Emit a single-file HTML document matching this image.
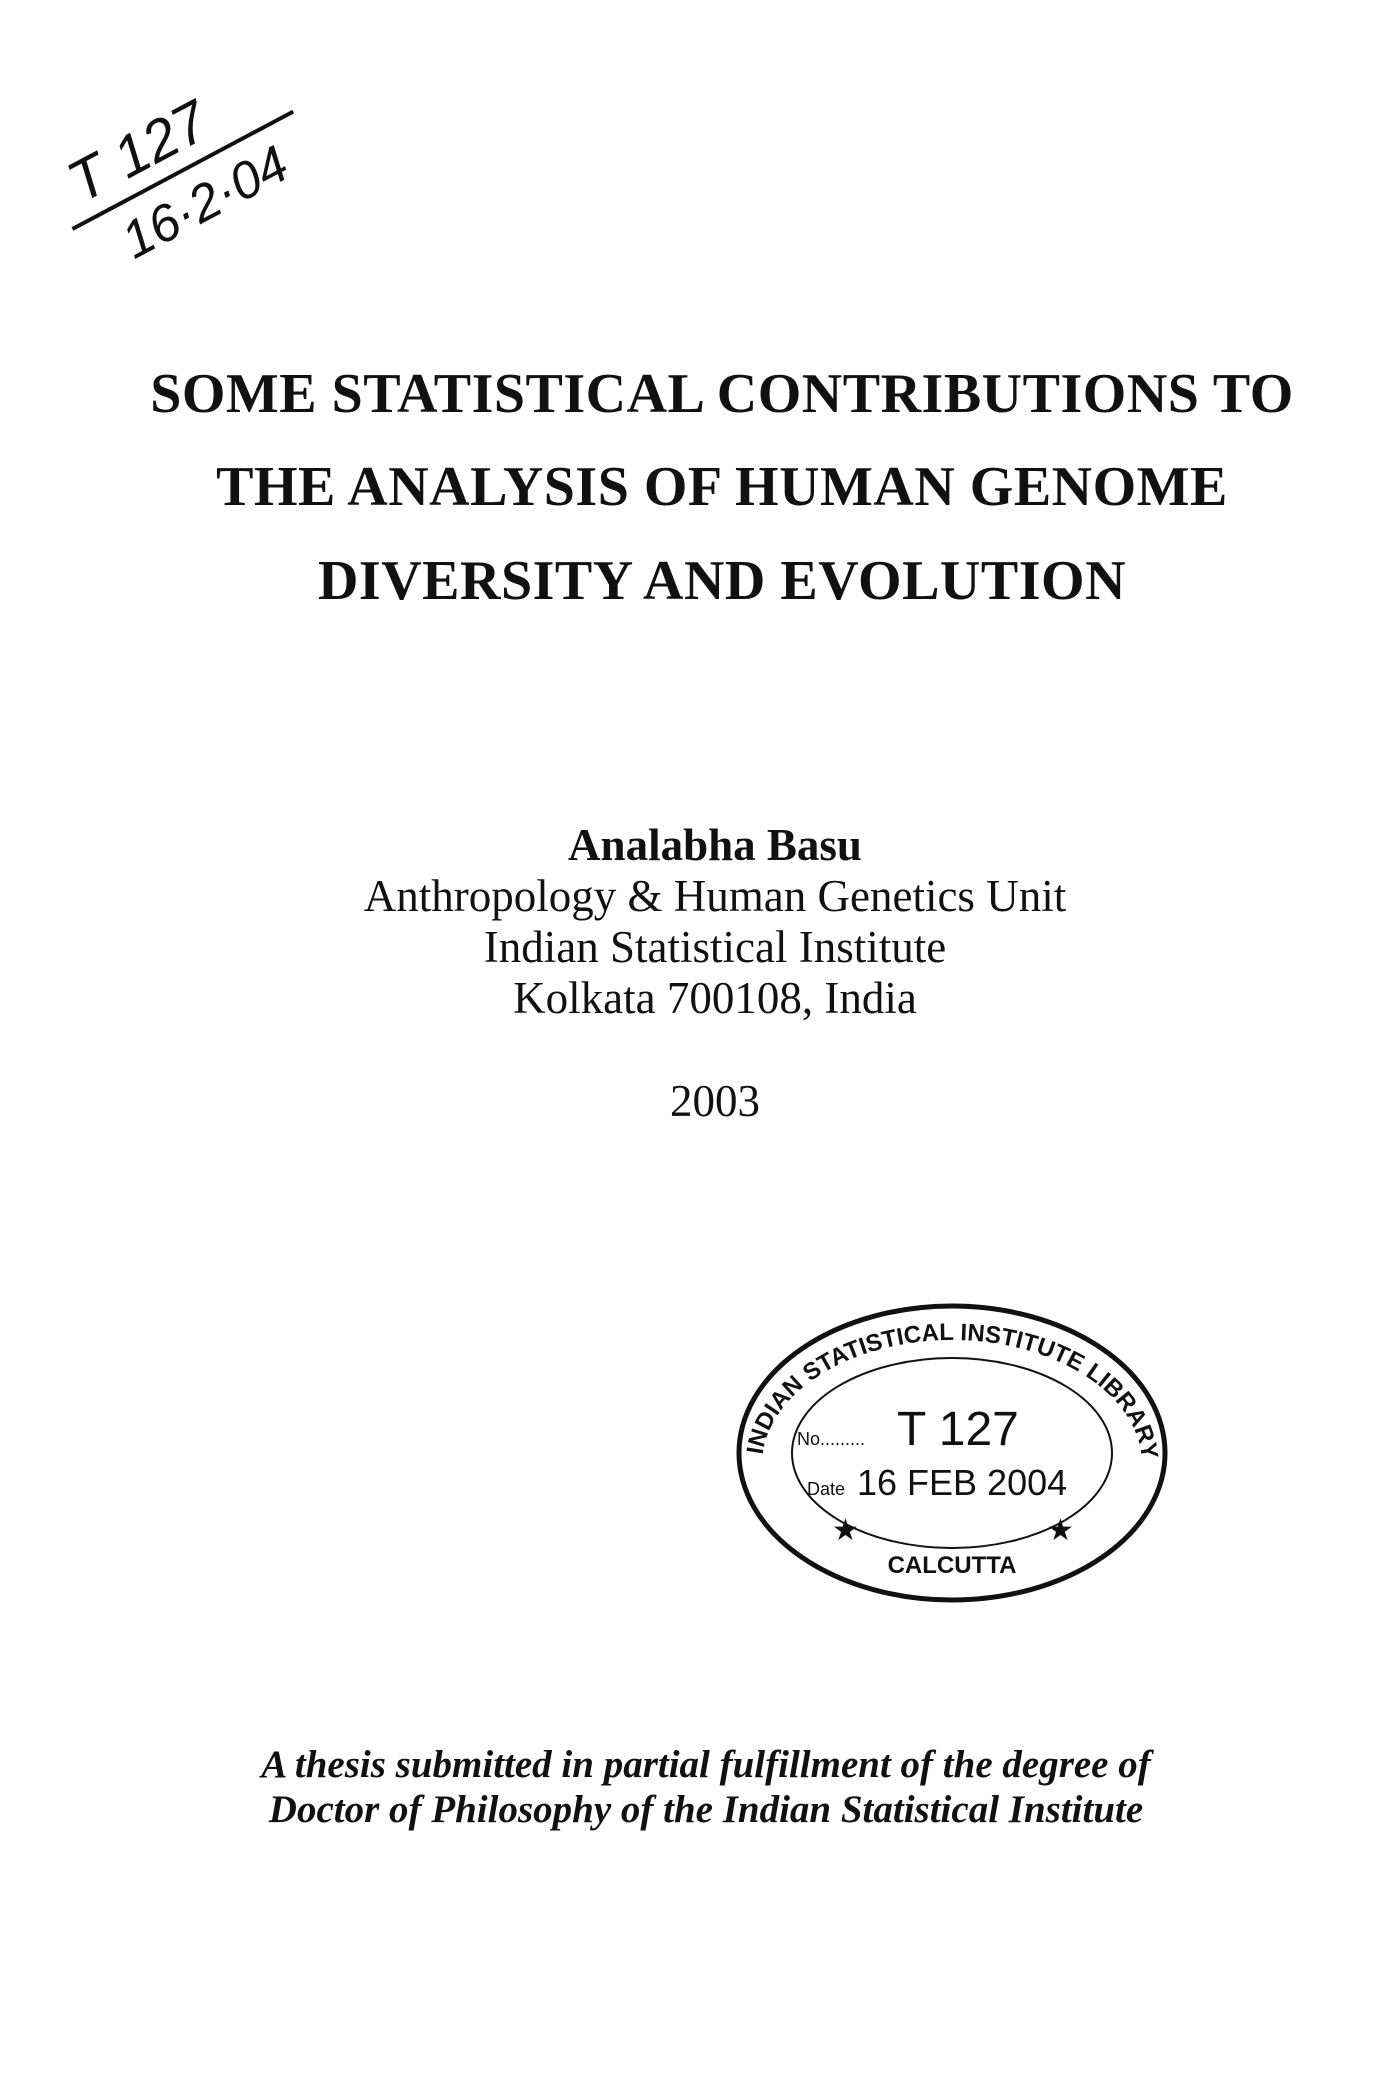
<!DOCTYPE html>
<html>
<head>
<meta charset="utf-8">
<style>
  html,body{margin:0;padding:0;}
  body{width:1400px;height:2100px;background:#fff;position:relative;overflow:hidden;font-family:"Liberation Serif",serif;color:#111;}
  .c{position:absolute;left:0;width:1400px;text-align:center;white-space:nowrap;}
  .title{font-weight:bold;font-size:56px;letter-spacing:0.5px;left:22px;}
  .auth{font-size:45px;left:15px;}
  .thesis{font-style:italic;font-weight:bold;font-size:39px;left:6px;}
</style>
</head>
<body>
<svg style="position:absolute;left:40px;top:55px" width="280" height="220" viewBox="0 0 280 220">
  <g transform="rotate(-28 140 110)" font-family="Liberation Sans, sans-serif" fill="#111" stroke="none">
    <text x="35" y="98" font-size="58" font-style="italic">T 127</text>
    <line x1="15" y1="116" x2="265" y2="116" stroke="#111" stroke-width="4"/>
    <text x="55" y="172" font-size="52" font-style="italic">16·2·04</text>
  </g>
</svg>

<div class="c title" style="top:362px">SOME STATISTICAL CONTRIBUTIONS TO</div>
<div class="c title" style="top:455px">THE ANALYSIS OF HUMAN GENOME</div>
<div class="c title" style="top:549px">DIVERSITY AND EVOLUTION</div>

<div class="c auth" style="top:819px;font-weight:bold">Analabha Basu</div>
<div class="c auth" style="top:870px">Anthropology &amp; Human Genetics Unit</div>
<div class="c auth" style="top:921px">Indian Statistical Institute</div>
<div class="c auth" style="top:972px">Kolkata 700108, India</div>
<div class="c auth" style="top:1075px">2003</div>

<svg style="position:absolute;left:722px;top:1295px" width="460" height="320" viewBox="0 0 460 320">
  <ellipse cx="230" cy="158" rx="213" ry="147" fill="none" stroke="#111" stroke-width="5"/>
  <ellipse cx="230" cy="158" rx="160" ry="95" fill="none" stroke="#111" stroke-width="2"/>
  <defs><path id="arc" d="M40 170 A190 125 0 0 1 420 170"/></defs>
  <text font-family="Liberation Sans, sans-serif" font-weight="bold" font-size="24" fill="#111"><textPath href="#arc" startOffset="2%">INDIAN STATISTICAL INSTITUTE LIBRARY</textPath></text>
  <text x="75" y="150" font-family="Liberation Sans, sans-serif" font-size="18" fill="#111">No.........</text>
  <text x="175" y="150" font-family="Liberation Sans, sans-serif" font-size="48" fill="#111">T  127</text>
  <text x="85" y="200" font-family="Liberation Sans, sans-serif" font-size="18" fill="#111">Date</text>
  <text x="135" y="200" font-family="Liberation Sans, sans-serif" font-size="36" fill="#111">16 FEB 2004</text>
  <text x="110" y="245" font-size="30" fill="#111">★</text>
  <text x="325" y="245" font-size="30" fill="#111">★</text>
  <text x="230" y="278" text-anchor="middle" font-family="Liberation Sans, sans-serif" font-weight="bold" font-size="24" fill="#111">CALCUTTA</text>
</svg>

<div class="c thesis" style="top:1742px">A thesis submitted in partial fulfillment of the degree of</div>
<div class="c thesis" style="top:1787px">Doctor of Philosophy of the Indian Statistical Institute</div>
</body>
</html>
